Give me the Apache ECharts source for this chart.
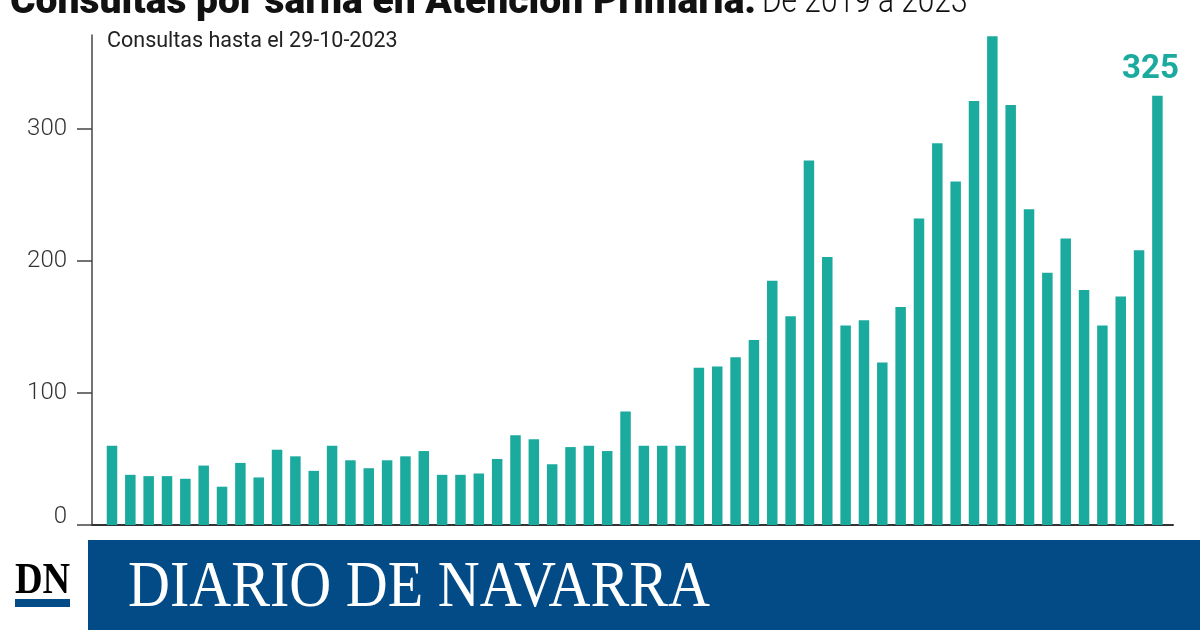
<!DOCTYPE html>
<html>
<head>
<meta charset="utf-8">
<script src="https://cdn.jsdelivr.net/npm/echarts@6/dist/echarts.min.js"></script>
<style>
  html, body { margin: 0; padding: 0; background: #fff; }
  #chart { width: 1200px; height: 630px; }
</style>
</head>
<body>
<div id="chart"></div>
<script>
// Consultas mensuales por sarna, ene-2019 .. oct-2023
var years = ['2019', '2020', '2021', '2022', '2023'];
var monthNames = ['ene', 'feb', 'mar', 'abr', 'may', 'jun', 'jul', 'ago', 'sep', 'oct', 'nov', 'dic'];
var consultas = [
  60, 38, 37, 37, 35, 45, 29, 47, 36, 57, 52, 41,
  60, 49, 43, 49, 52, 56, 38, 38, 39, 50, 68, 65,
  46, 59, 60, 56, 86, 60, 60, 60, 119, 120, 127, 140,
  185, 158, 276, 203, 151, 155, 123, 165, 232, 289, 260, 321,
  370, 318, 239, 191, 217, 178, 151, 173, 208, 325
];
var yTicks = [0, 100, 200, 300];

var teal = '#1bab9e';
var ink = '#222';
var navy = '#024b87';

var meses = [];
years.forEach(function(y) {
  monthNames.forEach(function(m) { meses.push(m + '-' + y); });
});
meses = meses.slice(0, consultas.length);

var last = consultas.length - 1;
var barData = consultas.map(function(v, i) {
  if (i === last) {
    return { value: [i, v], name: meses[i],
      label: { show: true, position: 'top', distance: 10, offset: [-7, 0],
        color: teal, fontFamily: 'Roboto', fontWeight: 700, fontSize: 33 } };
  }
  return { value: [i, v], name: meses[i] };
});

var chart = echarts.init(document.getElementById('chart'), null, { renderer: 'canvas' });
chart.setOption({
  animation: false,
  backgroundColor: '#fff',
  grid: { left: 92, right: 27, top: 35, bottom: 105 },
  xAxis: {
    type: 'value', min: -1.09, max: 57.85,
    axisLine: { show: true, onZero: false, lineStyle: { color: '#333', width: 2 } },
    axisTick: { show: false }, axisLabel: { show: false }, splitLine: { show: false }
  },
  yAxis: {
    type: 'value', min: 0, max: 371, interval: 100,
    axisLine: { show: true, onZero: false, lineStyle: { color: '#444', width: 1.5 } },
    axisTick: { show: true, inside: false, length: 15, lineStyle: { color: '#444', width: 1.5 } },
    splitLine: { show: false },
    axisLabel: {
      margin: 25, color: '#333', fontFamily: 'Roboto', fontWeight: 300, fontSize: 24,
      showMaxLabel: false,
      formatter: function(v) { return yTicks.indexOf(v) === 0 ? '{z|' + v + '}' : '' + v; },
      rich: { z: { padding: [0, 0, 16, 0], color: '#333', fontFamily: 'Roboto', fontWeight: 300, fontSize: 24 } }
    }
  },
  series: [{
    type: 'bar', data: barData, barWidth: 10.5,
    itemStyle: { color: teal }
  }],
  graphic: [
    { type: 'text', x: 10, y: -16, z: 10,
      style: { text: 'Consultas por sarna en Atención Primaria.', fontFamily: 'Roboto',
        fontWeight: 900, fontSize: 39, fill: '#111' } },
    { type: 'text', x: 762, y: -15, z: 10, scaleX: 0.83,
      style: { text: 'De 2019 a 2023', fontFamily: 'Roboto', fontWeight: 300,
        fontSize: 36, fill: '#111' } },
    { type: 'text', x: 107, y: 31,
      style: { text: 'Consultas hasta el 29-10-2023', fontFamily: 'Roboto', fontWeight: 400,
        fontSize: 21.5, fill: ink } },
    { type: 'rect', shape: { x: 88, y: 540, width: 1112, height: 90 }, style: { fill: navy } },
    { type: 'text', x: 128, y: 556, scaleX: 0.88,
      style: { text: 'DIARIO DE NAVARRA', fontFamily: 'Liberation Serif', fontSize: 66,
        fill: '#fff' } },
    { type: 'text', x: 15, y: 559, scaleX: 0.85,
      style: { text: 'DN', fontFamily: 'Liberation Serif', fontWeight: 700, fontSize: 45, fill: '#000' } },
    { type: 'rect', shape: { x: 15, y: 599, width: 55, height: 8 }, style: { fill: navy } }
  ]
});
</script>
</body>
</html>
